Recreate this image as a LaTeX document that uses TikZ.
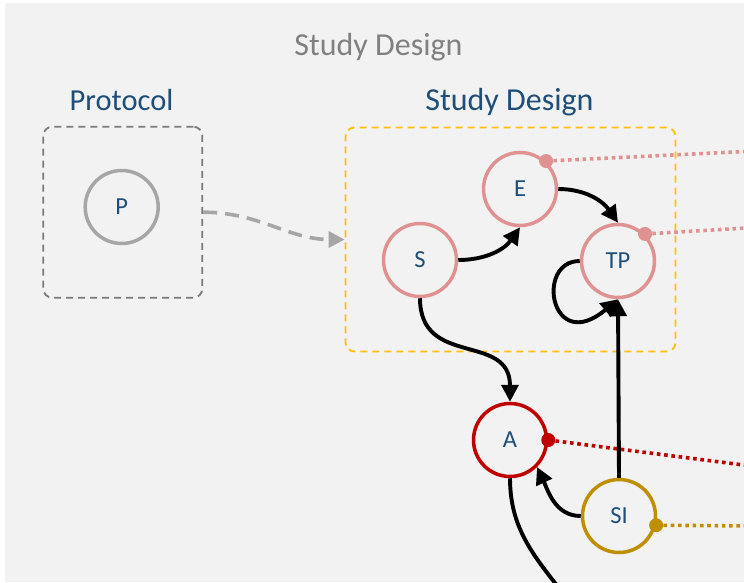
\documentclass[tikz,border=0pt]{standalone}
\usepackage{fontspec}
\setmainfont{Carlito}
\usetikzlibrary{arrows.meta,positioning}
\definecolor{bggrey}{HTML}{F2F2F2}
\definecolor{titlegrey}{HTML}{808080}
\definecolor{darkblue}{HTML}{1F4E79}
\definecolor{boxgrey}{HTML}{7A7A7A}
\definecolor{boxyellow}{HTML}{FFC000}
\definecolor{circgrey}{HTML}{A6A6A6}
\definecolor{rosered}{HTML}{E09292}
\definecolor{darkred}{HTML}{C00000}
\definecolor{gold}{HTML}{BF8F00}

\begin{document}
\begin{tikzpicture}[x=1pt,y=1pt]
      \tikzstyle{vertex}=[circle, draw, line width=3.5pt, minimum size=73pt, inner sep=0pt, text=darkblue, font=\fontsize{24.5}{28}\selectfont]
      \tikzstyle{title}=[anchor=base, font=\fontsize{32}{38}\selectfont]
      \tikzstyle{dashbox}=[rectangle, draw, line width=1.8pt, dash pattern=on 7pt off 5pt, rounded corners=9pt]
      \tikzstyle{edge}=[line width=3.9pt, -{Triangle[length=17pt,width=17pt]}]
      \tikzstyle{link}=[line width=3.6pt, dash pattern=on 3.6pt off 3.7pt]
      \useasboundingbox (0,0) rectangle (744,-582);
      \fill[bggrey] (5,-3) rectangle (744,-582);
      \node[title, text=titlegrey] (Title) at (378.5,-55) {Study Design};
      \node[dashbox, draw=boxgrey, minimum width=159pt, minimum height=171pt] (ProtoBox) at (122.8,-212.2) {};
      \node[dashbox, draw=boxyellow, minimum width=330pt, minimum height=224pt] (DesignBox) at (510.5,-239.5) {};
      \node[title, text=darkblue, font=\fontsize{30.5}{36}\selectfont] (ProtoLabel) at (121.5,-110) {Protocol};
      \node[title, text=darkblue] (DesignLabel) at (509.5,-110) {Study Design};
      \node[vertex, draw=circgrey] (P) at (121.7,-207) {P};
      \node[vertex, draw=rosered] (S) at (420,-260) {S};
      \node[vertex, draw=rosered] (E) at (520,-189) {E};
      \node[vertex, draw=rosered] (TP) at (618,-261) {TP};
      \node[vertex, draw=darkred] (A) at (510,-440) {A};
      \node[vertex, draw=gold] (SI) at (619,-516) {SI};
      \coordinate (Eout) at (760,-150.8);
      \coordinate (TPout) at (760,-227.2);
      \coordinate (Aout) at (760,-467.1);
      \coordinate (SIout) at (760,-526);
      \coordinate (Aend) at (572,-605);
      \draw[link, draw=rosered] (E.47) -- (Eout);
      \draw[link, draw=rosered] (TP.45) -- (TPout);
      \draw[link, draw=darkred] (A.east) -- (Aout);
      \draw[link, draw=gold] (SI.-14) -- (SIout);
      \fill[rosered] (E.47) circle (7pt);
      \fill[rosered] (TP.45) circle (7pt);
      \fill[darkred] (A.east) circle (7pt);
      \fill[gold] (SI.-14) circle (7pt);
      \draw[line width=3.6pt, draw=circgrey, dash pattern=on 14pt off 8pt, -{Triangle[length=16pt,width=16pt]}] (ProtoBox.east) to[out=0,in=180] (DesignBox.west);
      \draw[edge] (S.east) to[out=0,in=235] (E.south);
      \draw[edge] (E.east) to[out=0,in=125] (TP.north);
      \draw[edge] (TP.west) to[out=180,in=220,out distance=45pt,in distance=88pt] (TP.south);
      \draw[edge] (SI.north) -- (TP.south);
      \draw[edge] (S.south) to[out=-90,in=90,looseness=1.3] (A.north);
      \draw[edge] (SI.west) to[out=180,in=-65] (A.south east);
      \draw[line width=3.9pt] (A.south) to[out=-90,in=127] (Aend);
    \end{tikzpicture}
\end{document}
